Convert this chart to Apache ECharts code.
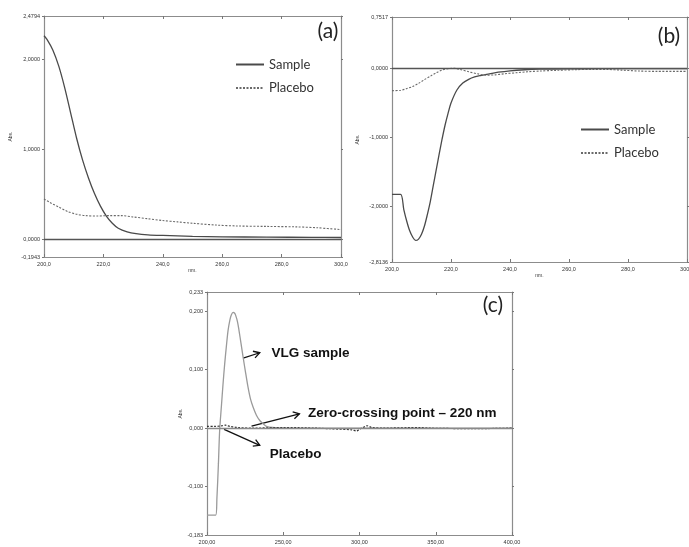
<!DOCTYPE html>
<html>
<head>
<meta charset="utf-8">
<script src="https://cdn.jsdelivr.net/npm/echarts@6/dist/echarts.min.js"></script>
<style>
html, body { margin: 0; padding: 0; background: #fff; }
#main { width: 689px; height: 547px; }
</style>
</head>
<body>
<div id="main"></div>
<script>
// panel (a) - absorption spectra
var aSampleX = [200, 201, 203, 205, 207, 209, 211, 213, 215, 217, 219, 221, 223, 225, 228, 231, 235, 240, 250, 260, 275, 290, 300];
var aSampleY = [2.26, 2.22, 2.10, 1.92, 1.68, 1.40, 1.12, 0.88, 0.68, 0.51, 0.37, 0.26, 0.18, 0.125, 0.085, 0.065, 0.052, 0.045, 0.035, 0.030, 0.026, 0.024, 0.022];
var aPlaceboX = [200, 202, 205, 208, 211, 214, 218, 222, 226, 230, 235, 240, 245, 250, 258, 265, 275, 285, 292, 300];
var aPlaceboY = [0.45, 0.41, 0.36, 0.31, 0.28, 0.265, 0.26, 0.265, 0.265, 0.25, 0.23, 0.21, 0.195, 0.18, 0.16, 0.15, 0.145, 0.14, 0.13, 0.11];
var aYTicks = [-0.1943, 0, 1, 2, 2.4794];

// panel (b) - first derivative
var bSampleX = [200, 202.9, 204, 205, 206, 207, 208, 209, 210, 211, 212, 213, 214, 215, 216, 217, 218, 219, 220, 222, 224, 226, 228, 230, 233, 236, 240, 245, 250, 260, 270, 300];
var bSampleY = [-1.83, -1.83, -2.05, -2.22, -2.36, -2.45, -2.50, -2.48, -2.41, -2.29, -2.12, -1.93, -1.70, -1.47, -1.24, -1.02, -0.82, -0.65, -0.50, -0.31, -0.21, -0.155, -0.12, -0.10, -0.076, -0.052, -0.031, -0.016, -0.008, -0.003, 0, 0];
var bPlaceboX = [200, 203, 205, 207, 209, 211, 213, 215, 217, 219, 221, 223, 226, 229, 232, 235, 238, 242, 246, 250, 256, 262, 268, 273, 278, 284, 290, 300];
var bPlaceboY = [-0.32, -0.315, -0.29, -0.26, -0.215, -0.16, -0.11, -0.06, -0.02, 0.0, 0.005, -0.01, -0.045, -0.075, -0.095, -0.09, -0.075, -0.06, -0.045, -0.035, -0.024, -0.015, -0.01, -0.012, -0.022, -0.035, -0.04, -0.04];
var bYTicks = [-2.8136, -2, -1, 0, 0.7517];

// panel (c) - ratio derivative
var cSampleX = [200, 205.7, 206.5, 207.5, 208.3, 209.4, 210.5, 211.6, 212.7, 213.8, 215, 216, 217.1, 218, 218.8, 220, 221, 222.3, 223.7, 225.3, 226.9, 228.5, 230.2, 232.4, 234.6, 237, 239, 243, 248, 260, 400];
var cSampleY = [-0.149, -0.149, -0.12, -0.06, -0.004, 0.036, 0.075, 0.11, 0.14, 0.167, 0.185, 0.194, 0.198, 0.197, 0.193, 0.182, 0.167, 0.145, 0.121, 0.095, 0.07, 0.05, 0.036, 0.022, 0.013, 0.007, 0.003, 0.001, 0.0005, 0, 0];
var cPlaceboX = [200, 205, 210, 212, 215, 220, 230, 250, 270, 280, 295, 298, 300, 303, 305, 308, 315, 340, 345, 375, 400];
var cPlaceboY = [0.003, 0.003, 0.004, 0.005, 0.003, 0.001, 0, 0.001, 0, -0.001, -0.003, -0.005, -0.002, 0.002, 0.004, 0.001, 0, 0.001, 0, -0.001, 0];
var cYTicks = [-0.183, -0.1, 0, 0.1, 0.2, 0.233];

var grids = [
  { left: 44, top: 16, width: 297, height: 241, outerBoundsMode: 'none' },
  { left: 392, top: 17, width: 295, height: 245, outerBoundsMode: 'none' },
  { left: 207, top: 292, width: 305, height: 243, outerBoundsMode: 'none' }
];

var axisCol = '#8c8c8c';
var tickFont = { fontFamily: 'Liberation Sans', fontSize: 5.5, color: '#333' };

function pairs(xs, ys) {
  return xs.map(function (x, i) { return [x, ys[i]]; });
}
function comma(d) {
  return function (v) { return v.toFixed(d).replace('.', ','); };
}

var xAxes = [], yAxes = [];
function addAxes(g, xmin, xmax, xstep, xdec, yticks, ydec, xname, ygap) {
  [ 'bottom', 'top' ].forEach(function (pos) {
    xAxes.push({
      type: 'value', gridIndex: g, position: pos, min: xmin, max: xmax, interval: xstep,
      name: pos === 'bottom' ? xname : '', nameLocation: 'middle', nameGap: 10,
      nameTextStyle: { fontFamily: 'Liberation Sans', fontSize: 5, color: '#333' },
      axisLine: { show: true, onZero: false, lineStyle: { color: axisCol, width: 1.2 } },
      axisTick: { show: true, inside: true, length: 3, lineStyle: { color: '#777' } },
      axisLabel: Object.assign({ show: pos === 'bottom', margin: 4, hideOverlap: false, formatter: comma(xdec) }, tickFont),
      splitLine: { show: false }
    });
  });
  [ 'left', 'right' ].forEach(function (pos) {
    yAxes.push({
      type: 'value', gridIndex: g, position: pos, min: yticks[0], max: yticks[yticks.length - 1],
      name: pos === 'left' ? 'Abs.' : '', nameLocation: 'middle', nameGap: ygap,
      nameTextStyle: { fontFamily: 'Liberation Sans', fontSize: 5, color: '#333' },
      axisLine: { show: true, onZero: false, lineStyle: { color: axisCol, width: 1.2 } },
      axisTick: { show: true, inside: false, length: 2, customValues: yticks, lineStyle: { color: '#777' } },
      axisLabel: Object.assign({ show: pos === 'left', margin: 4, customValues: yticks, formatter: comma(ydec) }, tickFont),
      splitLine: { show: false }
    });
  });
}
addAxes(0, 200, 300, 20, 1, aYTicks, 4, 'nm.', 31);
addAxes(1, 200, 300, 20, 1, bYTicks, 4, 'nm.', 32);
addAxes(2, 200, 400, 50, 2, cYTicks, 3, '', 20);

function line(name, g, xs, ys, color, width, dashed, zeroColor) {
  var s = {
    name: name, type: 'line', xAxisIndex: 2 * g, yAxisIndex: 2 * g,
    data: pairs(xs, ys), symbol: 'none', smooth: 0.3,
    lineStyle: { color: color, width: width, type: dashed ? [2, 1.5] : 'solid' },
    itemStyle: { color: color }
  };
  if (zeroColor) {
    s.markLine = {
      silent: true, symbol: 'none', label: { show: false },
      lineStyle: { color: zeroColor, width: 1.3, type: 'solid' },
      data: [{ yAxis: 0 }]
    };
  }
  return s;
}

var chart = echarts.init(document.getElementById('main'));
var legendBase = {
  orient: 'vertical', itemWidth: 28, itemHeight: 14, itemGap: 10.5, padding: 0,
  selectedMode: false, data: ['Sample', 'Placebo'],
  itemStyle: { opacity: 0 },
  textStyle: { fontFamily: 'Lato', fontSize: 13, color: '#333' }
};
chart.setOption({
  animation: false,
  backgroundColor: '#fff',
  grid: grids,
  xAxis: xAxes,
  yAxis: yAxes,
  legend: [
    Object.assign({ left: 235, top: 58 }, legendBase),
    Object.assign({ left: 580, top: 123 }, legendBase)
  ],
  series: [
    line('Sample', 0, aSampleX, aSampleY, '#4a4a4a', 1.3, false, '#555'),
    line('Placebo', 0, aPlaceboX, aPlaceboY, '#6a6a6a', 1.1, true),
    line('Sample', 1, bSampleX, bSampleY, '#4a4a4a', 1.3, false, '#555'),
    line('Placebo', 1, bPlaceboX, bPlaceboY, '#6a6a6a', 1.1, true),
    line('VLG sample', 2, cSampleX, cSampleY, '#9a9a9a', 1.3, false, '#8a8a8a'),
    line('Placebo (c)', 2, cPlaceboX, cPlaceboY, '#333', 1.2, true)
  ]
});

// annotations of panel (c), anchored in data coordinates
var notes = [
  { text: 'VLG sample', at: [242.3, 0.128], from: [223.7, 0.120], to: [234.6, 0.129] },
  { text: 'Zero-crossing point \u2013 220 nm', at: [266.3, 0.0256], from: [229.2, 0.0034], to: [260.6, 0.0245] },
  { text: 'Placebo', at: [241.2, -0.0454], from: [211.2, -0.0022], to: [234.6, -0.0295] }
];
var graphics = [];
function panelLabel(txt, x, y) {
  graphics.push({
    type: 'text', x: x, y: y,
    style: { text: txt, fontFamily: 'Lato', fontSize: 21, fill: '#222', textAlign: 'center', textVerticalAlign: 'middle' }
  });
}
panelLabel('(a)', 328, 31);
panelLabel('(b)', 669, 36);
panelLabel('(c)', 493, 305);

notes.forEach(function (n) {
  var p = chart.convertToPixel({ gridIndex: 2 }, n.at);
  var a = chart.convertToPixel({ gridIndex: 2 }, n.from);
  var b = chart.convertToPixel({ gridIndex: 2 }, n.to);
  graphics.push({
    type: 'text', x: p[0], y: p[1],
    style: { text: n.text, fontFamily: 'Liberation Sans', fontWeight: 'bold', fontSize: 13.5, fill: '#111', textVerticalAlign: 'middle' }
  });
  var ang = Math.atan2(b[1] - a[1], b[0] - a[0]);
  var L = 7, spread = Math.PI / 6;
  graphics.push({
    type: 'line', shape: { x1: a[0], y1: a[1], x2: b[0], y2: b[1] },
    style: { stroke: '#111', lineWidth: 1.3 }
  });
  graphics.push({
    type: 'polyline',
    shape: { points: [
      [b[0] - L * Math.cos(ang - spread), b[1] - L * Math.sin(ang - spread)],
      [b[0], b[1]],
      [b[0] - L * Math.cos(ang + spread), b[1] - L * Math.sin(ang + spread)]
    ] },
    style: { stroke: '#111', lineWidth: 1.3, fill: null }
  });
});
chart.setOption({ graphic: graphics });
</script>
</body>
</html>
